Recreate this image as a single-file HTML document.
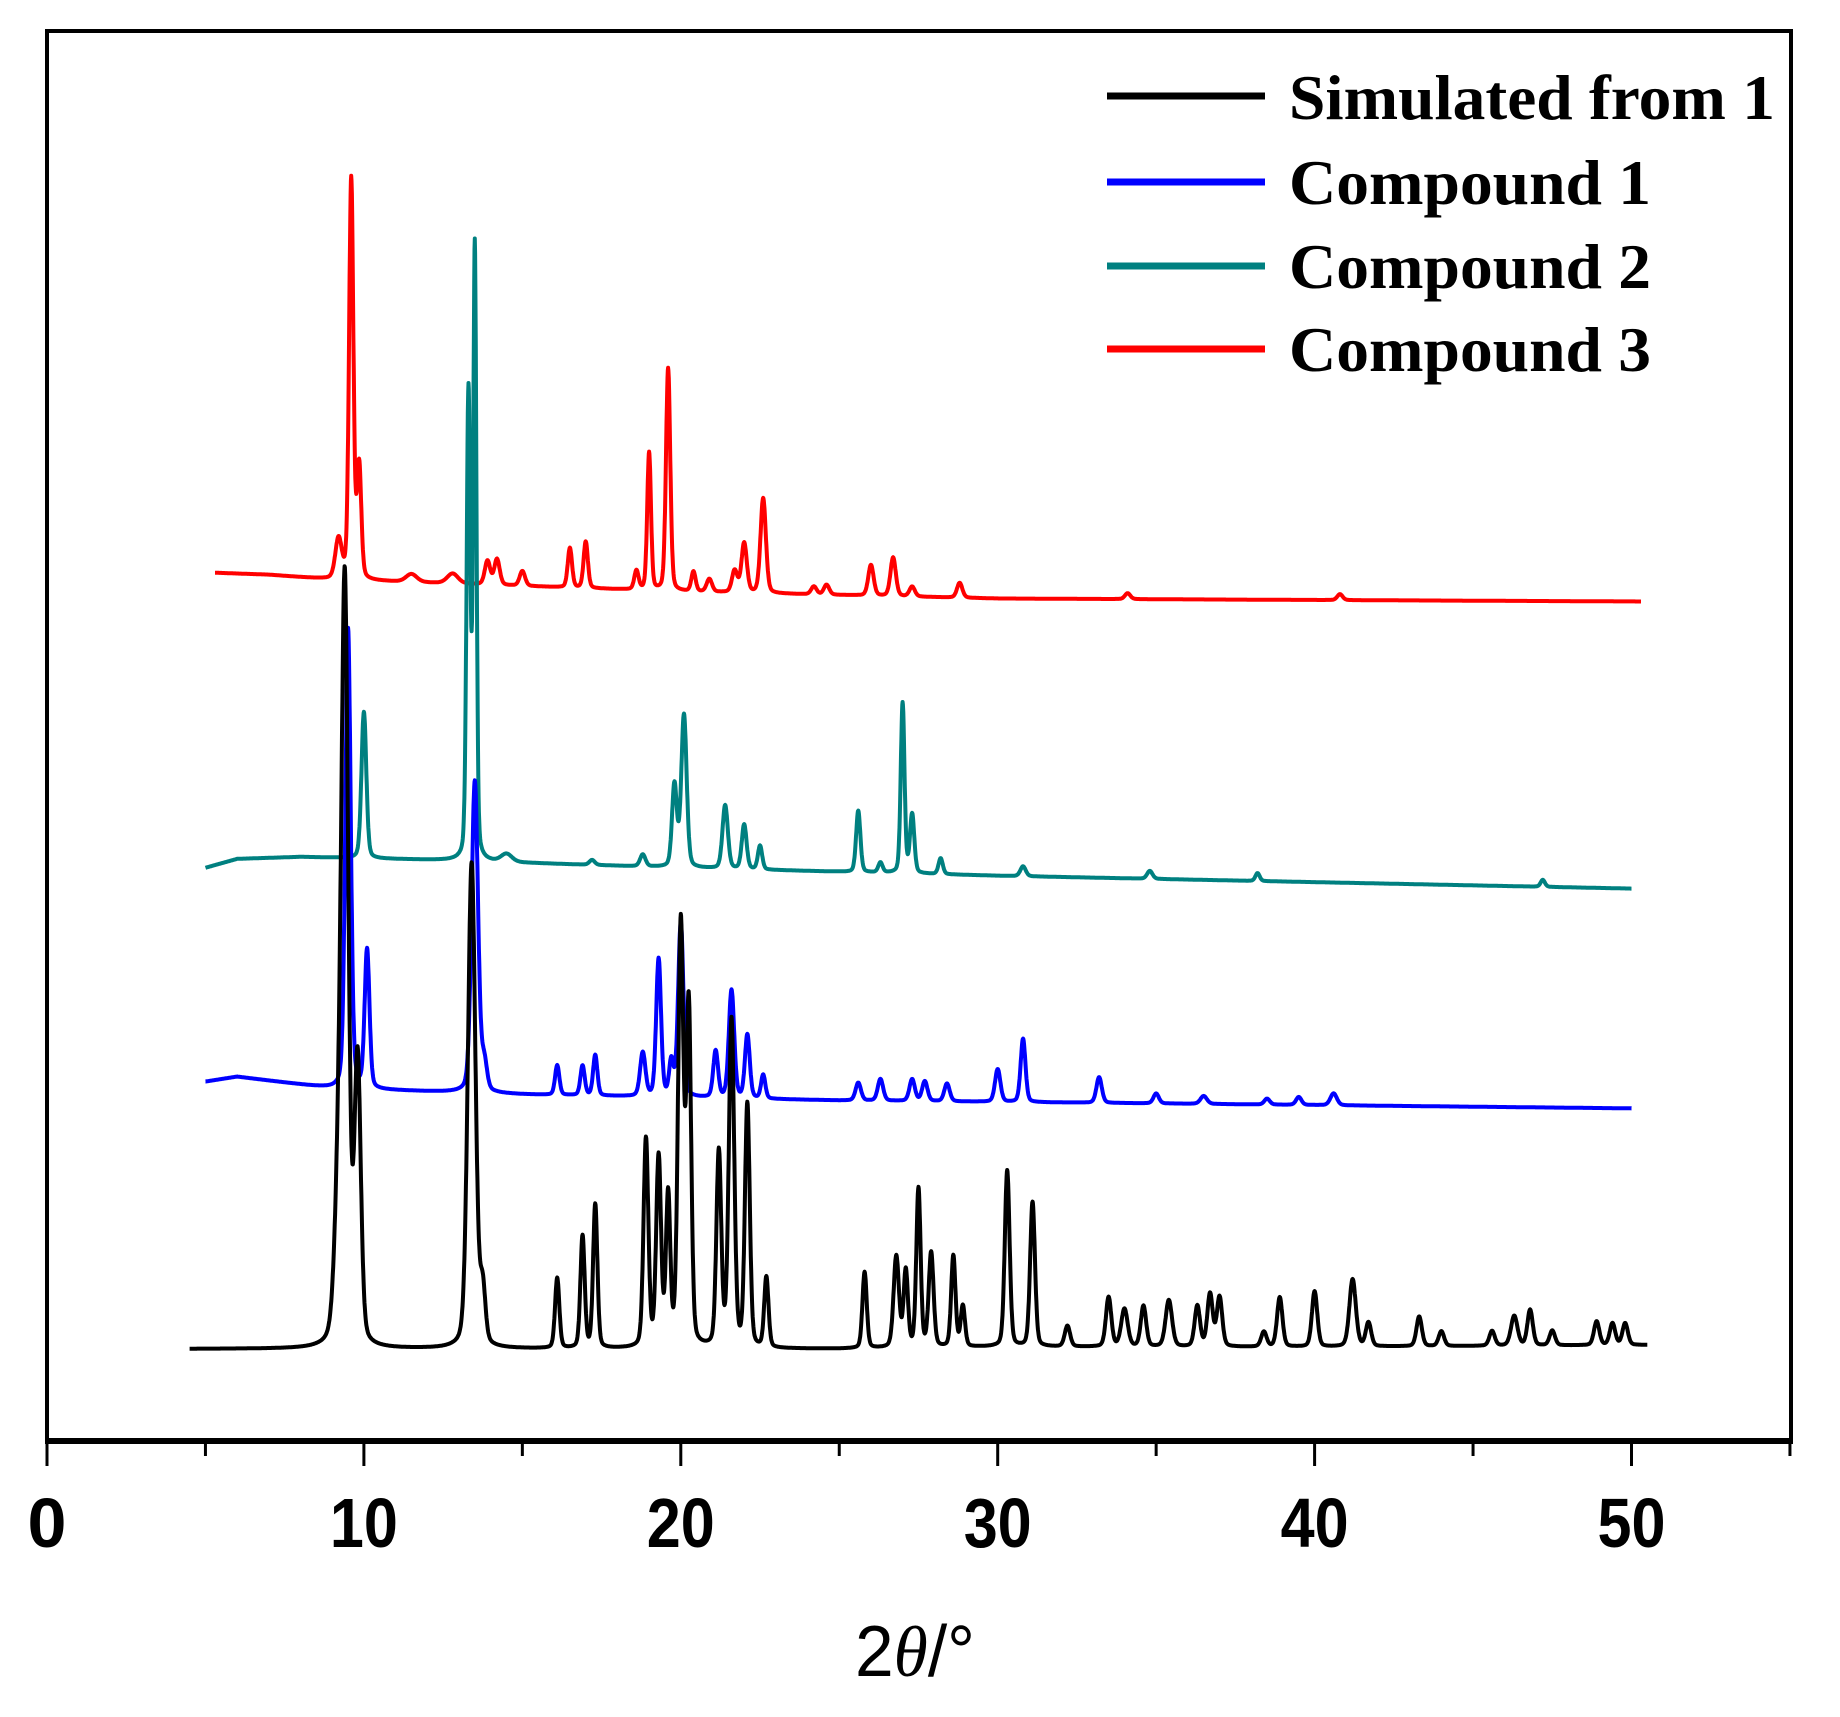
<!DOCTYPE html>
<html><head><meta charset="utf-8"><style>
html,body{margin:0;padding:0;background:#fff;}
svg{display:block;}
</style></head><body>
<svg id="chart" width="1840" height="1717" viewBox="0 0 1840 1717" xmlns="http://www.w3.org/2000/svg">
<rect x="0" y="0" width="1840" height="1717" fill="#fff"/>
<g id="series"></g>
<rect x="47" y="31" width="1744" height="1410" fill="none" stroke="#000" stroke-width="4"/>
<line x1="45" y1="1441" x2="1793" y2="1441" stroke="#000" stroke-width="6"/>
<g id="ticks"></g>
<text x="915" y="1676" font-family="Liberation Sans, sans-serif" font-size="72" text-anchor="middle" textLength="120" lengthAdjust="spacingAndGlyphs">2<tspan font-family="Liberation Serif, serif" font-style="italic">θ</tspan>/°</text>
<g font-family="Liberation Serif, serif" font-weight="bold" font-size="64">
 <g>
  <line x1="1107" y1="96" x2="1265" y2="96" stroke="#000" stroke-width="7"/>
  <text x="1289" y="119" textLength="486" lengthAdjust="spacingAndGlyphs">Simulated from 1</text>
 </g>
 <g>
  <line x1="1107" y1="182" x2="1265" y2="182" stroke="#0000ff" stroke-width="7"/>
  <text x="1289" y="204" textLength="362" lengthAdjust="spacingAndGlyphs">Compound 1</text>
 </g>
 <g>
  <line x1="1107" y1="266" x2="1265" y2="266" stroke="#008080" stroke-width="7"/>
  <text x="1289" y="288" textLength="362" lengthAdjust="spacingAndGlyphs">Compound 2</text>
 </g>
 <g>
  <line x1="1107" y1="349" x2="1265" y2="349" stroke="#ff0000" stroke-width="7"/>
  <text x="1289" y="371" textLength="362" lengthAdjust="spacingAndGlyphs">Compound 3</text>
 </g>
</g>
</svg>
<script>
const xTickValues=[0,10,20,30,40,50];
const xMinorValues=[5,15,25,35,45,55];
const xTickLabels=["0","10","20","30","40","50"];

// [x, baseline height]
const simBase=[[4.5,93],[25,93],[30,95],[40,95],[50.5,97]];
const c1Base=[[5,363],[6,368],[9,356],[15,350],[25,344],[35,341],[50,336]];
const c2Base=[[5,579],[6,588],[8,590],[12,587],[20,579],[30,571],[50,558]];
const c3Base=[[5.3,877],[7,875],[9,870],[12,867],[20,858],[30,851],[50.3,848]];

// peaks: [position (2θ), height, half-width]
const simPeaks=[[9.2,140,0.15],[9.4,740,0.13],[9.8,285,0.12],[13.4,490,0.14],[13.75,55,0.1],[16.1,71,0.08],[16.9,113,0.08],[17.3,145,0.08],[18.9,210,0.09],[19.3,190,0.09],[19.6,150,0.08],[20.0,425,0.1],[20.25,340,0.09],[21.2,196,0.09],[21.6,330,0.1],[22.1,245,0.09],[22.7,71,0.08],[25.8,77,0.08],[26.8,92,0.1],[27.1,77,0.08],[27.5,160,0.08],[27.9,95,0.09],[28.6,92,0.08],[28.9,41,0.08],[30.3,178,0.09],[31.1,146,0.09],[32.2,21,0.1],[33.5,50,0.1],[34.0,38,0.12],[34.6,41,0.1],[35.4,47,0.12],[36.3,41,0.1],[36.7,53,0.1],[37.0,50,0.1],[38.4,15,0.1],[38.9,50,0.1],[40.0,56,0.1],[41.2,68,0.12],[41.7,24,0.1],[43.3,30,0.1],[44.0,15,0.1],[45.6,15,0.1],[46.3,30,0.12],[46.8,36,0.1],[47.5,15,0.1],[48.9,24,0.1],[49.4,22,0.1],[49.8,22,0.1]];
const c1Peaks=[[9.5,465,0.1],[10.1,140,0.09],[13.5,315,0.12],[13.8,28,0.1],[16.1,30,0.08],[16.9,30,0.08],[17.3,41,0.08],[18.8,44,0.1],[19.3,139,0.09],[19.7,35,0.08],[20.0,175,0.1],[21.1,47,0.09],[21.6,109,0.1],[22.1,64,0.09],[22.6,24,0.08],[25.6,18,0.1],[26.3,22,0.1],[27.3,22,0.1],[27.7,20,0.1],[28.4,18,0.1],[30.0,33,0.1],[30.8,64,0.09],[33.2,26,0.1],[35.0,10,0.1],[36.5,8,0.12],[38.5,6,0.1],[39.5,8,0.1],[40.6,12,0.12]];
const c2Peaks=[[10.0,148,0.09],[13.3,470,0.07],[13.5,615,0.06],[14.5,8,0.2],[17.2,5,0.1],[18.8,12,0.1],[19.8,83,0.09],[20.1,154,0.1],[21.4,64,0.1],[22.0,45,0.09],[22.5,24,0.08],[25.6,62,0.08],[26.3,10,0.08],[27.0,172,0.07],[27.3,59,0.08],[28.2,16,0.08],[30.8,10,0.1],[34.8,8,0.1],[38.2,8,0.08],[47.2,7,0.08]];
const c3Peaks=[[9.2,40,0.12],[9.6,405,0.08],[9.85,113,0.08],[11.5,8,0.2],[12.8,10,0.2],[13.9,24,0.1],[14.2,26,0.1],[15.0,15,0.1],[16.5,40,0.08],[17.0,47,0.08],[18.6,19,0.08],[19.0,139,0.07],[19.6,225,0.08],[20.4,20,0.08],[20.9,13,0.1],[21.7,22,0.1],[22.0,50,0.1],[22.6,96,0.1],[24.2,8,0.1],[24.6,10,0.1],[26.0,31,0.1],[26.7,39,0.1],[27.3,10,0.1],[28.8,15,0.1],[34.1,6,0.1],[40.8,6,0.1]];

const seriesColors=["#000000","#0000ff","#008080","#ff0000"];
const seriesNames=["simulated-from-1","compound-1","compound-2","compound-3"];

const NS="http://www.w3.org/2000/svg";
function X(v){return 47+v*31.69;}
function Y(h){return 1441-h*0.99;}
function baseAt(b,x){
  if(x<=b[0][0])return b[0][1];
  for(let i=1;i<b.length;i++){if(x<=b[i][0]){const t=(x-b[i-1][0])/(b[i][0]-b[i-1][0]);return b[i-1][1]+t*(b[i][1]-b[i-1][1]);}}
  return b[b.length-1][1];
}
function profile(peaks,x){
  let s=0;
  for(const p of peaks){const d=(x-p[0])/p[2];s+=p[1]*(0.75*Math.exp(-0.693*d*d)+0.25/(1+d*d));}
  return s;
}
function drawSeries(base,peaks,color,name){
  const x0=base[0][0],x1=base[base.length-1][0];
  let d="";
  for(let x=x0;x<=x1+1e-9;x+=0.01){
    const h=baseAt(base,x)+profile(peaks,x);
    d+=(d?"L":"M")+X(x).toFixed(1)+","+Y(h).toFixed(1);
  }
  const p=document.createElementNS(NS,"path");
  p.setAttribute("d",d);p.setAttribute("fill","none");
  p.setAttribute("stroke",color);p.setAttribute("stroke-width","4");
  p.setAttribute("stroke-linejoin","round");
  
  
  document.getElementById("series").appendChild(p);
}
drawSeries(c3Base,c3Peaks,seriesColors[3],seriesNames[3]);
drawSeries(c2Base,c2Peaks,seriesColors[2],seriesNames[2]);
drawSeries(c1Base,c1Peaks,seriesColors[1],seriesNames[1]);
drawSeries(simBase,simPeaks,seriesColors[0],seriesNames[0]);

const tg=document.getElementById("ticks");
xTickValues.forEach((v,i)=>{
  const l=document.createElementNS(NS,"line");
  l.setAttribute("x1",X(v));l.setAttribute("x2",X(v));
  l.setAttribute("y1",1441);l.setAttribute("y2",1466);
  l.setAttribute("stroke","#000");l.setAttribute("stroke-width","3");
  
  
  tg.appendChild(l);
  const t=document.createElementNS(NS,"text");
  t.setAttribute("x",X(v));t.setAttribute("y",1547);
  t.setAttribute("text-anchor","middle");
  t.setAttribute("font-family","Liberation Sans, sans-serif");
  t.setAttribute("font-weight","bold");t.setAttribute("font-size","70");
  if(xTickLabels[i].length>1){t.setAttribute("textLength","68");t.setAttribute("lengthAdjust","spacingAndGlyphs");}
  t.textContent=xTickLabels[i];
  
  
  tg.appendChild(t);
});
xMinorValues.forEach(v=>{
  const l=document.createElementNS(NS,"line");
  l.setAttribute("x1",X(v));l.setAttribute("x2",X(v));
  l.setAttribute("y1",1441);l.setAttribute("y2",1456);
  l.setAttribute("stroke","#000");l.setAttribute("stroke-width","3");
  
  
  tg.appendChild(l);
});
</script>
</body></html>
